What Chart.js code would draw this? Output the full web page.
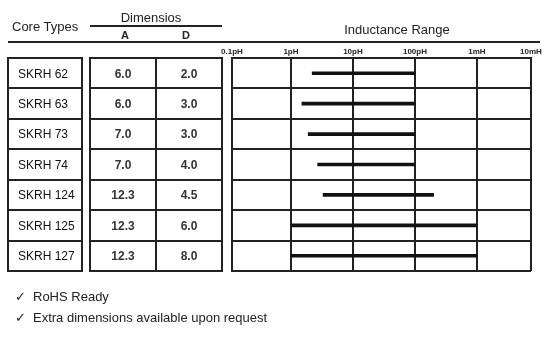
<!DOCTYPE html>
<html>
<head>
<meta charset="utf-8">
<script src="https://cdn.jsdelivr.net/npm/chart.js@4.4.1/dist/chart.umd.min.js"></script>
<style>
  html, body { margin: 0; padding: 0; background: #fff; }
  #wrap { position: relative; width: 549px; height: 339px; font-family: "Liberation Sans", Arial, sans-serif; color: #222; }
  #wrap canvas { position: absolute; left: 0; top: 0; }
  .c { position: absolute; white-space: nowrap; line-height: 1; transform: translate(-50%, -50%); }
  .l { position: absolute; white-space: nowrap; line-height: 1; transform: translateY(-50%); }
  .rule { position: absolute; background: #222; }
</style>
</head>
<body>
<div id="wrap">
  <canvas id="chart" width="549" height="339"></canvas>

  <div class="l" style="left:12px; top:26px; font-size:13px;">Core Types</div>
  <div class="c" style="left:151px; top:17px; font-size:13px;">Dimensios</div>
  <div class="rule" style="left:90px; top:25px; width:132px; height:2px;"></div>
  <div class="c" style="left:125px; top:35px; font-size:11px; font-weight:bold;">A</div>
  <div class="c" style="left:186px; top:35px; font-size:11px; font-weight:bold;">D</div>
  <div class="c" style="left:397px; top:29px; font-size:13px;">Inductance Range</div>
  <div class="rule" style="left:8px; top:41px; width:532px; height:2px;"></div>

  <div class="l" style="left:15px; top:296px; font-size:13px; font-family:'DejaVu Sans', sans-serif;">✓</div>
  <div class="l" style="left:33px; top:296px; font-size:13px;">RoHS Ready</div>
  <div class="l" style="left:15px; top:317px; font-size:13px; font-family:'DejaVu Sans', sans-serif;">✓</div>
  <div class="l" style="left:33px; top:317px; font-size:13px;">Extra dimensions available upon request</div>
</div>

<script>
// Core types and their dimensions
const coreTypes = ['SKRH 62', 'SKRH 63', 'SKRH 73', 'SKRH 74', 'SKRH 124', 'SKRH 125', 'SKRH 127'];
const dimA = ['6.0', '6.0', '7.0', '7.0', '12.3', '12.3', '12.3'];
const dimD = ['2.0', '3.0', '3.0', '4.0', '4.5', '6.0', '8.0'];

// Inductance range per core type, in µH (shown as "pH" on the axis)
const rangeMin = [2.2, 1.5, 1.9, 2.7, 3.3, 1, 1];
const rangeMax = [100, 100, 100, 100, 200, 1000, 1000];

// Axis bounds and decade tick labels
const axisMin = 0.112;
const axisMax = 7450;
const tickValues = [axisMin, 1, 10, 100, 1000, axisMax];
const tickLabels = ['0.1pH', '1pH', '10pH', '100pH', '1mH', '10mH'];

const LINE = '#222';

// Draws the Core Types and Dimensions tables on the rows of the y scale
const sideTables = {
  id: 'sideTables',
  afterDraw(chart) {
    const ctx = chart.ctx;
    const y = chart.scales.y;
    const n = coreTypes.length;
    const top = y.top, bottom = y.bottom;
    const rowH = (bottom - top) / n;
    const coreBox = [8, 82];
    const dimBox = [90, 222];
    const dimSplit = 156;

    ctx.save();
    ctx.strokeStyle = LINE;
    ctx.lineWidth = 2;
    [coreBox, dimBox].forEach(([x0, x1]) => {
      ctx.strokeRect(x0, top, x1 - x0, bottom - top);
      for (let i = 1; i < n; i++) {
        const yy = Math.round(top + i * rowH);
        ctx.beginPath();
        ctx.moveTo(x0, yy);
        ctx.lineTo(x1, yy);
        ctx.stroke();
      }
    });
    ctx.beginPath();
    ctx.moveTo(dimSplit, top);
    ctx.lineTo(dimSplit, bottom);
    ctx.stroke();

    ctx.textBaseline = 'middle';
    coreTypes.forEach((name, i) => {
      const cy = y.getPixelForValue(i) + 1;
      ctx.fillStyle = '#111';
      ctx.font = '12px "Liberation Sans", Arial, sans-serif';
      ctx.textAlign = 'left';
      ctx.fillText(name, 18, cy);
      ctx.fillStyle = '#333';
      ctx.font = 'bold 12px "Liberation Sans", Arial, sans-serif';
      ctx.textAlign = 'center';
      ctx.fillText(dimA[i], (dimBox[0] + dimSplit) / 2, cy);
      ctx.fillText(dimD[i], (dimSplit + dimBox[1]) / 2, cy);
    });
    ctx.restore();
  }
};

new Chart(document.getElementById('chart'), {
  type: 'bar',
  data: {
    labels: coreTypes,
    datasets: [{
      data: rangeMin.map((v, i) => [v, rangeMax[i]]),
      backgroundColor: '#111',
      borderWidth: 0,
      barThickness: 3
    }]
  },
  options: {
    indexAxis: 'y',
    responsive: false,
    animation: false,
    layout: { padding: { left: 232, right: 18, top: 46, bottom: 68 } },
    plugins: { legend: { display: false }, tooltip: { enabled: false } },
    scales: {
      x: {
        type: 'logarithmic',
        position: 'top',
        min: axisMin,
        max: axisMax,
        afterBuildTicks(scale) {
          scale.ticks = tickValues.map(v => ({ value: v }));
        },
        afterFit(scale) { scale.height = 12; },
        grid: { color: LINE, lineWidth: 2, drawTicks: false },
        border: { color: LINE, width: 2 },
        ticks: {
          autoSkip: false,
          maxRotation: 0,
          padding: 1,
          color: '#222',
          font: { family: '"Liberation Sans", Arial, sans-serif', size: 8, weight: 'bold' },
          callback: (v, i) => tickLabels[i]
        }
      },
      y: {
        type: 'category',
        offset: true,
        afterFit(scale) { scale.width = 0; },
        grid: { color: LINE, lineWidth: 2, offset: true, drawTicks: false },
        border: { color: LINE, width: 2 },
        ticks: { display: false }
      }
    }
  },
  plugins: [sideTables]
});
</script>
</body>
</html>
